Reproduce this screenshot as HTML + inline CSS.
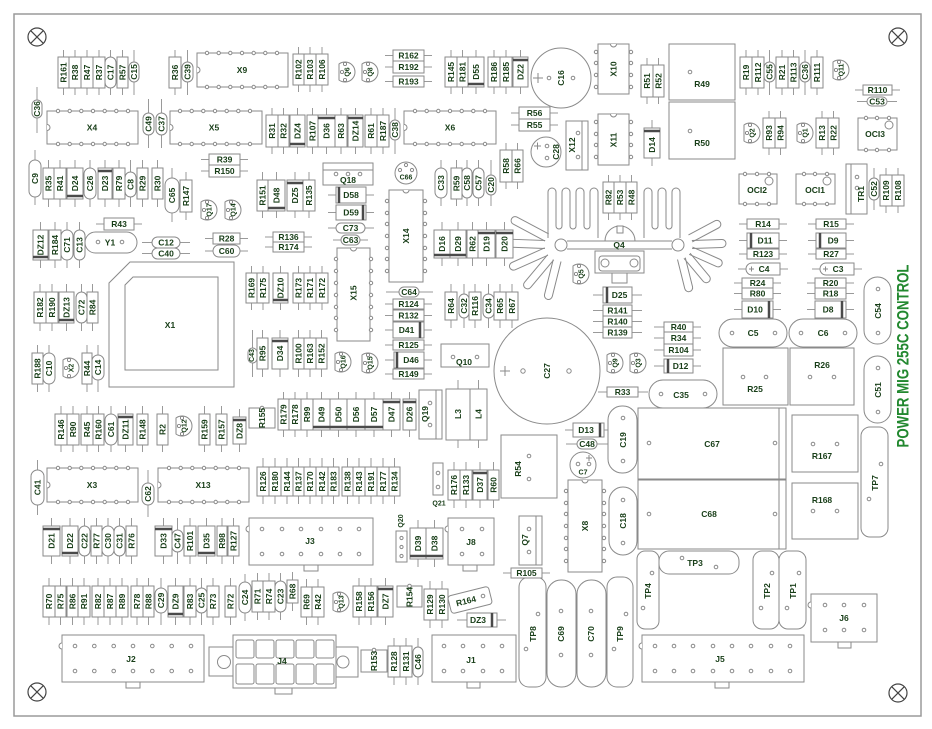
<!DOCTYPE html>
<html><head><meta charset="utf-8"><style>
html,body{margin:0;padding:0;background:#fff}
svg{display:block}
rect,circle,path{fill:#fff;stroke:#8a8a8a;stroke-width:1}
.l{fill:none;stroke:#9a9a9a}
.n{fill:none}
.bd{fill:none;stroke:#4a4a4a;stroke-width:2.5}
.p{stroke:#7a7a7a;stroke-width:.8}
.x{fill:none;stroke:#444;stroke-width:1.2}
text{font-family:"Liberation Sans Narrow","Liberation Sans",sans-serif;font-weight:bold;font-size:8.5px;fill:#173d17;text-anchor:middle;dominant-baseline:central}
.s{font-size:7px}
.tt{font-family:"Liberation Sans Narrow","Liberation Sans",sans-serif;font-size:17px;fill:#22882f}
</style></head><body>
<svg width="932" height="729" viewBox="0 0 932 729" xmlns="http://www.w3.org/2000/svg">
<defs>
<g id="q"><path d="M-6 -8A10 10 0 1 1 -6 8Z"/><circle class="p" cx="0" cy="-8" r="1.6"/><circle class="p" cx="0" cy="8" r="1.6"/><circle class="p" cx="-3" cy="0" r="1.6"/></g>
<g id="xh"><circle class="x" cx="0" cy="0" r="9"/><path class="x" d="M-6.4 -6.4L6.4 6.4M6.4 -6.4L-6.4 6.4"/></g>
</defs>
<rect x="14" y="14" width="907" height="702" style="fill:#fff;stroke:#9a9a9a;stroke-width:1.5"/>
<use href="#xh" x="37" y="37"/><use href="#xh" x="898" y="37"/><use href="#xh" x="37" y="692"/><use href="#xh" x="898" y="693"/>

<!-- leads -->
<path class="l" d="M63.5 50V95M75 50V95M87 50V95M99 50V95M110.5 50V95M122.5 50V95M134 50V95M175 50V95M187.5 50V95
M298.5 47V92M310 47V92M322 47V92M385 55.5H432M385 67H432M385 81.5H432
M451 50V94M462.5 50V94M476 50V94M494 50V94M506 50V94M520.5 50V94M647 58V104M658.5 58V104
M746 50V95M758 50V95M769.5 50V95M782 50V95M793.5 50V95M805 50V95M817 50V95M855 90H900M857 101.5H897
M37 87V133M148.5 99V148M161.5 99V148
M272 108V154M283.5 108V154M297.5 108V154M312.5 108V154M326.5 108V154M341 108V154M355.5 108V154M371 108V154M383 108V154M395 108V154
M511 113H558M511 125H558M652 120V166M506 143V189M517.5 143V189M769 111V155M780.5 111V155M822 111V155M833.5 111V155
M201 159.5H248M201 171H248M35 150V205
M48.5 160V207M60 160V207M75 160V207M90 160V207M105 160V207M119 160V207M130.5 160V207M142.5 160V207M157.5 160V207
M172 168V222M186 172V220M262.5 172V218M276.5 172V218M295 172V218M309 172V218
M328 195H374M328 212.5H374M328 228H374M333 240H368
M441 160V206M456.5 160V206M467 160V206M478.5 160V206M491 160V206M608.5 175V220M620 175V220M631.5 175V220
M874 168V210M886 168V213M898 168V213
M96 224H142M40.5 222V268M55 222V268M67 222V268M79.5 222V268M142 242.5H190M142 253.5H190M205 238.5H248M205 251H248M265 237H312M265 247H312
M442 222V266M458 222V266M472.5 222V266M486.5 222V266M504.5 222V266
M739 224H787M739 240.5H787M808 224H854M808 240.5H854M739 254H787M808 254H854M738 269H788M812 269H862
M734 283H781M734 293.5H781M734 309.5H781M807 283H854M807 293.5H854M807 309.5H854
M40 284V331M52 284V331M66.5 284V331M81.5 284V331M92.5 284V331M37.5 345V392M49 345V392M87 345V392M98 345V392
M61 406V452M73 406V452M87 406V452M98.5 406V452M111 406V452M125.5 406V452M142.5 406V452M162.5 406V452M204.5 406V452M221.5 406V452M239.5 409V452
M283.5 392V437M295 392V437M307 392V437M321.5 392V437M338.5 392V437M356 392V437M374 392V437M391.5 392V437M409.5 392V437
M458 380V448M478.5 380V448M37.5 460V515M148 470V517
M263 458V504M275 458V504M287 458V504M298.5 458V504M310 458V504M322 458V504M333.5 458V504M347.5 458V504M359 458V504M371 458V504M383 458V504M394.5 458V504
M454 462V508M466 462V508M480 462V508M493.5 462V508
M51.5 518V564M70 518V564M84.5 518V564M96.5 518V564M108 518V564M119.5 518V564M131.5 518V564M163.5 518V564M177.5 518V564M190 518V564M206.5 518V564M222 518V564M233.5 518V564
M418 520V567M434.5 520V567
M49 578V625M60.5 578V625M72.5 578V625M84 578V625M98 578V625M110 578V625M122 578V625M137 578V625M148.5 578V625M161 578V625M175.5 578V625M190 578V625M201.5 578V625M213 578V625M230.5 578V625
M245 574V621M257.5 573V620M269 573V620M280.5 573V620M292.5 572V611M306.5 579V625M318 579V625
M359 578V625M371 578V625M385.5 578V625M430 581V628M442 581V628M457 620H506
M394 638V685M406 638V685M418 638V685M503 573H550M565 430H612M566 444H608
M386 292H433M385 304H432M385 315.5H432M385 330H432M385 345H432M385 360H432M385 374H432
M251.5 266V310M263 266V310M280.5 266V310M298.5 266V310M310 266V310M322 266V310
M252.5 330V377M262.5 330V377M280 330V377M298.5 330V377M310 330V377M321.5 330V377
M451 284V328M464 284V328M475 284V328M488.5 284V328M500 284V328M512 284V328
M593 295H642M593 310.5H642M593 321.5H642M593 332.5H642M654 327H701M654 338H701M654 350H701M654 366H701M598 392H648"/>

<!-- heatsink -->
<path class="n" d="M548 238V192a4 4 0 0 1 8 0V226a3 3 0 0 0 6 0V192a4 4 0 0 1 8 0V226a3 3 0 0 0 6 0V192a4 4 0 0 1 8 0V226a3 3 0 0 0 6 0V192a4 4 0 0 1 8 0V238"/>
<path class="n" d="M644 238V192a4 4 0 0 1 8 0V226a3 3 0 0 0 6 0V192a4 4 0 0 1 8 0V226a3 3 0 0 0 6 0V192a4 4 0 0 1 8 0V238"/>
<path class="n" d="M-4 0V-36a4 4 0 0 1 8 0V0" transform="translate(561 245)rotate(-62)translate(0 -16)"/>
<path class="n" d="M-4 0V-36a4 4 0 0 1 8 0V0" transform="translate(561 245)rotate(-88)translate(0 -16)"/>
<path class="n" d="M-4 0V-36a4 4 0 0 1 8 0V0" transform="translate(561 245)rotate(-114)translate(0 -16)"/>
<path class="n" d="M-4 0V-36a4 4 0 0 1 8 0V0" transform="translate(561 245)rotate(-140)translate(0 -16)"/>
<path class="n" d="M-4 0V-36a4 4 0 0 1 8 0V0" transform="translate(561 245)rotate(-166)translate(0 -16)"/>
<path class="n" d="M-4 0V-30a4 4 0 0 1 8 0V0" transform="translate(678 245)rotate(62)translate(0 -14)"/>
<path class="n" d="M-4 0V-30a4 4 0 0 1 8 0V0" transform="translate(678 245)rotate(88)translate(0 -14)"/>
<path class="n" d="M-4 0V-30a4 4 0 0 1 8 0V0" transform="translate(678 245)rotate(114)translate(0 -14)"/>
<path class="n" d="M-4 0V-30a4 4 0 0 1 8 0V0" transform="translate(678 245)rotate(140)translate(0 -14)"/>
<path class="n" d="M-4 0V-30a4 4 0 0 1 8 0V0" transform="translate(678 245)rotate(166)translate(0 -14)"/>
<path class="n" d="M567 241H672M567 249H672"/>
<path d="M605 241A15 15 0 0 1 635 241Z"/><rect x="617" y="226" width="6" height="7"/>
<circle cx="561" cy="245" r="6"/><circle cx="678" cy="245" r="6"/>
<rect x="595" y="251" width="49" height="22"/><rect x="599" y="256" width="41" height="15" rx="3"/><rect x="612" y="273" width="15" height="10"/>
<circle cx="605" cy="263" r="4"/><circle cx="634" cy="263" r="4"/>

<!-- bodies row1 -->
<rect x="58" y="57" width="11" height="31"/><rect x="69" y="57" width="12" height="31"/><rect x="81" y="57" width="12" height="31"/><rect x="93" y="57" width="12" height="31"/><rect x="105" y="57" width="11" height="31" rx="5.5"/><rect x="117" y="57" width="11" height="31"/><rect x="129" y="62" width="10" height="20" rx="5"/>
<rect x="169" y="57" width="12" height="31"/><rect x="182" y="62" width="11" height="20" rx="5.5"/>
<rect x="197" y="53" width="91" height="34"/>
<rect x="293" y="54" width="11" height="31"/><rect x="304" y="54" width="12" height="31"/><rect x="316" y="54" width="12" height="31"/>
<rect x="393" y="50" width="31" height="11"/><rect x="393" y="61" width="31" height="12"/><rect x="393" y="76" width="31" height="11"/>
<rect x="445" y="57" width="12" height="30"/><rect x="457" y="57" width="11" height="30"/><rect x="468" y="57" width="16" height="30"/><rect x="488" y="57" width="12" height="30"/><rect x="500" y="57" width="12" height="30"/><rect x="513" y="57" width="15" height="30"/>
<circle cx="561" cy="78" r="30"/>
<rect x="598" y="44" width="31" height="50"/>
<rect x="641" y="65" width="12" height="32"/><rect x="653" y="65" width="11" height="32"/>
<rect x="669" y="44" width="66" height="56"/><rect x="669" y="102" width="66" height="57"/>
<rect x="740" y="57" width="12" height="31"/><rect x="752" y="57" width="12" height="31"/><rect x="764" y="62" width="11" height="20" rx="5.5"/><rect x="776" y="57" width="12" height="31"/><rect x="788" y="57" width="11" height="31"/><rect x="800" y="62" width="10" height="20" rx="5"/><rect x="811" y="57" width="12" height="31"/>
<rect x="863" y="85" width="29" height="10"/><rect x="867" y="97" width="20" height="9" rx="4.5"/>
<!-- row2 -->
<rect x="32" y="100" width="10" height="18" rx="5"/>
<rect x="47" y="111" width="91" height="33"/>
<rect x="143" y="113" width="11" height="22" rx="5.5"/><rect x="156" y="113" width="11" height="22" rx="5.5"/>
<rect x="170" y="111" width="92" height="33"/>
<rect x="266" y="115" width="12" height="32"/><rect x="278" y="115" width="11" height="32"/><rect x="290" y="115" width="15" height="32"/><rect x="307" y="115" width="11" height="32"/><rect x="318" y="115" width="17" height="32"/><rect x="335" y="115" width="12" height="32"/><rect x="348" y="115" width="15" height="32"/><rect x="365" y="115" width="12" height="32"/><rect x="377" y="115" width="12" height="32"/><rect x="390" y="120" width="10" height="20" rx="5"/>
<rect x="404" y="111" width="92" height="33"/>
<rect x="519" y="107" width="31" height="12"/><rect x="519" y="119" width="31" height="12"/>
<circle cx="546" cy="152" r="15"/>
<rect x="566" y="121" width="22" height="49"/>
<rect x="598" y="114" width="31" height="51"/>
<rect x="644" y="128" width="16" height="30"/>
<rect x="500" y="150" width="12" height="32"/><rect x="512" y="150" width="11" height="32"/>
<rect x="763" y="118" width="12" height="30"/><rect x="775" y="118" width="11" height="30"/><rect x="816" y="118" width="12" height="30"/><rect x="828" y="118" width="11" height="30"/>
<rect x="858" y="118" width="39" height="32"/>
<!-- row3 -->
<rect x="209" y="154" width="31" height="11"/><rect x="209" y="165" width="31" height="12"/>
<rect x="29" y="160" width="12" height="37" rx="6"/>
<rect x="43" y="168" width="11" height="31"/><rect x="54" y="168" width="12" height="31"/><rect x="67" y="168" width="16" height="31"/><rect x="84" y="168" width="12" height="31" rx="6"/><rect x="98" y="168" width="14" height="31"/><rect x="113" y="168" width="12" height="31"/><rect x="125" y="172" width="11" height="25" rx="5.5"/><rect x="137" y="168" width="11" height="31"/><rect x="152" y="168" width="11" height="31"/>
<rect x="165" y="178" width="14" height="35" rx="7"/><rect x="180" y="180" width="12" height="32"/>
<rect x="257" y="180" width="11" height="31"/><rect x="268" y="180" width="17" height="31"/><rect x="287" y="180" width="16" height="31"/><rect x="303" y="180" width="12" height="31"/>
<rect x="323" y="163" width="50" height="22"/>
<rect x="336" y="187" width="30" height="16"/><rect x="336" y="205" width="30" height="15"/><rect x="336" y="223" width="29" height="10" rx="5"/><rect x="341" y="235" width="19" height="10" rx="5"/>
<circle cx="406" cy="173" r="11"/>
<rect x="389" y="190" width="34" height="92"/>
<rect x="435" y="168" width="12" height="30" rx="6"/><rect x="451" y="168" width="11" height="31"/><rect x="462" y="168" width="10" height="30" rx="5"/><rect x="473" y="168" width="11" height="30" rx="5.5"/><rect x="486" y="175" width="10" height="20" rx="5"/>
<rect x="603" y="182" width="11" height="31"/><rect x="614" y="182" width="12" height="31"/><rect x="626" y="182" width="11" height="31"/>
<rect x="739" y="174" width="38" height="30"/><rect x="796" y="174" width="39" height="30"/>
<rect x="846" y="164" width="21" height="50"/>
<rect x="869" y="178" width="10" height="22" rx="5"/><rect x="880" y="175" width="12" height="31"/><rect x="892" y="175" width="12" height="31"/>
<!-- row4 -->
<rect x="104" y="218" width="30" height="12"/>
<rect x="85" y="232" width="52" height="21" rx="10.5"/>
<rect x="33" y="230" width="15" height="30"/><rect x="49" y="230" width="12" height="30"/><rect x="61" y="230" width="12" height="30" rx="6"/><rect x="74" y="230" width="11" height="30" rx="5.5"/>
<rect x="152" y="237" width="28" height="11" rx="5.5"/><rect x="152" y="248" width="28" height="11" rx="5.5"/>
<rect x="213" y="233" width="27" height="11"/><rect x="213" y="245" width="27" height="12" rx="6"/>
<rect x="273" y="232" width="31" height="10"/><rect x="273" y="242" width="31" height="10"/>
<rect x="434" y="230" width="16" height="28"/><rect x="450" y="230" width="16" height="28"/><rect x="467" y="230" width="11" height="28"/><rect x="478" y="230" width="17" height="28"/><rect x="496" y="230" width="17" height="28"/>
<rect x="747" y="219" width="32" height="10"/><rect x="747" y="233" width="32" height="15"/><rect x="816" y="219" width="30" height="10"/><rect x="816" y="233" width="30" height="15"/>
<rect x="747" y="249" width="32" height="10"/><rect x="816" y="249" width="30" height="10"/>
<path d="M752 263H780V275H752A6 6 0 0 1 752 263Z"/><path d="M826 263H854V275H826A6 6 0 0 1 826 263Z"/>
<rect x="742" y="278" width="31" height="10"/><rect x="742" y="288" width="31" height="11"/><rect x="742" y="301" width="31" height="17"/>
<rect x="815" y="278" width="31" height="10"/><rect x="815" y="288" width="31" height="11"/><rect x="815" y="301" width="31" height="17"/>
<rect x="719" y="319" width="68" height="28" rx="14"/><rect x="789" y="319" width="68" height="28" rx="14"/>
<rect x="864" y="277" width="27" height="67" rx="13.5"/>
<rect x="723" y="348" width="65" height="57"/><rect x="790" y="348" width="64" height="57"/>
<rect x="864" y="356" width="27" height="67" rx="13.5"/>
<!-- X1 area -->
<path d="M130 262H234V387H109V283Z"/><path d="M133 277H218V370H125V285Z"/>
<rect x="34" y="292" width="12" height="31"/><rect x="46" y="292" width="12" height="31"/><rect x="59" y="292" width="15" height="31"/><rect x="76" y="292" width="11" height="31" rx="5.5"/><rect x="87" y="292" width="11" height="31"/>
<rect x="32" y="353" width="11" height="31"/><rect x="43" y="353" width="12" height="31" rx="6"/><rect x="82" y="353" width="10" height="31"/><rect x="92" y="355" width="12" height="25" rx="6"/>
<!-- row 414 -->
<rect x="55" y="414" width="12" height="31"/><rect x="67" y="414" width="12" height="31"/><rect x="81" y="414" width="12" height="31"/><rect x="93" y="414" width="11" height="31"/><rect x="105" y="414" width="12" height="31" rx="6"/><rect x="118" y="414" width="15" height="31"/><rect x="137" y="414" width="11" height="31"/><rect x="157" y="414" width="11" height="31"/><rect x="199" y="414" width="11" height="31"/><rect x="216" y="414" width="11" height="31"/><rect x="233" y="417" width="13" height="27"/>
<rect x="249" y="408" width="26" height="20"/>
<rect x="278" y="399" width="11" height="31"/><rect x="289" y="399" width="12" height="31"/><rect x="301" y="399" width="12" height="31"/><rect x="313" y="399" width="17" height="31"/><rect x="330" y="399" width="17" height="31"/><rect x="347" y="399" width="18" height="31"/><rect x="365" y="399" width="18" height="31"/><rect x="383" y="399" width="17" height="31"/><rect x="403" y="399" width="13" height="31"/>
<rect x="419" y="390" width="23" height="49"/>
<rect x="446" y="389" width="24" height="51"/><rect x="470" y="389" width="17" height="51"/>
<!-- X3 row -->
<rect x="31" y="470" width="13" height="35" rx="6.5"/><rect x="47" y="468" width="91" height="34"/><rect x="142" y="483" width="12" height="22" rx="6"/><rect x="158" y="468" width="91" height="34"/>
<rect x="257" y="467" width="12" height="29"/><rect x="269" y="467" width="12" height="29"/><rect x="281" y="467" width="12" height="29"/><rect x="293" y="467" width="11" height="29"/><rect x="304" y="467" width="12" height="29"/><rect x="316" y="467" width="12" height="29"/><rect x="328" y="467" width="11" height="29"/><rect x="342" y="467" width="11" height="29"/><rect x="353" y="467" width="12" height="29"/><rect x="365" y="467" width="12" height="29"/><rect x="377" y="467" width="12" height="29"/><rect x="389" y="467" width="11" height="29"/>
<rect x="433" y="463" width="10" height="32"/>
<rect x="448" y="470" width="12" height="30"/><rect x="460" y="470" width="12" height="30"/><rect x="473" y="470" width="14" height="30"/><rect x="488" y="470" width="11" height="30"/>
<!-- D21 row -->
<rect x="43" y="526" width="17" height="30"/><rect x="62" y="526" width="16" height="30"/><rect x="79" y="526" width="11" height="30" rx="5.5"/><rect x="91" y="526" width="11" height="30"/><rect x="102" y="526" width="12" height="30" rx="6"/><rect x="114" y="526" width="11" height="30" rx="5.5"/><rect x="126" y="526" width="11" height="30"/><rect x="155" y="526" width="17" height="30"/><rect x="172" y="530" width="11" height="22" rx="5.5"/><rect x="184" y="526" width="12" height="30"/><rect x="198" y="526" width="17" height="30"/><rect x="217" y="526" width="10" height="30"/><rect x="228" y="526" width="11" height="30"/>
<rect x="304" y="565" width="14" height="6"/><rect x="249" y="518" width="124" height="47"/>
<rect x="396" y="531" width="11" height="31"/>
<rect x="410" y="528" width="16" height="31"/><rect x="426" y="528" width="17" height="31"/>
<rect x="463" y="565" width="14" height="6"/><rect x="448" y="518" width="46" height="47"/>
<!-- R70 row -->
<rect x="43" y="586" width="12" height="31"/><rect x="55" y="586" width="11" height="31"/><rect x="67" y="586" width="11" height="31"/><rect x="78" y="586" width="12" height="31"/><rect x="92" y="586" width="12" height="31"/><rect x="104" y="586" width="12" height="31"/><rect x="116" y="586" width="12" height="31"/><rect x="131" y="586" width="12" height="31"/><rect x="143" y="586" width="11" height="31"/><rect x="155" y="588" width="12" height="25" rx="6"/><rect x="168" y="586" width="15" height="31"/><rect x="184" y="586" width="12" height="31"/><rect x="196" y="588" width="11" height="25" rx="5.5"/><rect x="207" y="586" width="12" height="31"/><rect x="225" y="586" width="11" height="31"/>
<rect x="239" y="582" width="12" height="31" rx="6"/><rect x="252" y="581" width="11" height="31"/><rect x="263" y="581" width="12" height="31"/><rect x="275" y="581" width="11" height="31" rx="5.5"/><rect x="287" y="580" width="11" height="23"/>
<rect x="301" y="587" width="11" height="30"/><rect x="312" y="587" width="12" height="30"/>
<rect x="353" y="586" width="12" height="31"/><rect x="365" y="586" width="12" height="31"/><rect x="378" y="586" width="15" height="31"/>
<rect x="397" y="586" width="25" height="21"/>
<rect x="424" y="589" width="12" height="31"/><rect x="436" y="589" width="12" height="31"/>
<rect x="449" y="591" width="42" height="18" rx="3" transform="rotate(-14 470 600)"/>
<rect x="467" y="613" width="30" height="14"/>
<!-- bottom connectors -->
<rect x="126" y="682" width="14" height="6"/><rect x="62" y="635" width="142" height="47"/>
<rect x="209" y="647" width="24" height="29"/><circle cx="224" cy="662" r="6.5"/>
<rect x="336" y="647" width="22" height="30"/><circle cx="343" cy="662" r="6"/>
<rect x="275" y="688" width="17" height="6"/><rect x="233" y="635" width="103" height="53"/>
<rect x="236" y="640" width="18" height="18" rx="2"/><rect x="256" y="640" width="18" height="18" rx="2"/><rect x="276" y="640" width="18" height="18" rx="2"/><rect x="296" y="640" width="18" height="18" rx="2"/><rect x="316" y="640" width="18" height="18" rx="2"/>
<rect x="236" y="664" width="18" height="20" rx="2"/><rect x="256" y="664" width="18" height="20" rx="2"/><rect x="276" y="664" width="18" height="20" rx="2"/><rect x="296" y="664" width="18" height="20" rx="2"/><rect x="316" y="664" width="18" height="20" rx="2"/>
<rect x="361" y="650" width="26" height="22"/>
<rect x="388" y="646" width="12" height="31"/><rect x="400" y="646" width="12" height="31"/><rect x="413" y="647" width="10" height="30" rx="5"/>
<rect x="467" y="682" width="13" height="6"/><rect x="432" y="635" width="84" height="47"/>
<rect x="519" y="577" width="27" height="110" rx="10"/>
<rect x="547" y="580" width="29" height="107" rx="14"/>
<rect x="577" y="580" width="29" height="107" rx="14"/>
<rect x="607" y="577" width="26" height="110" rx="10"/>
<rect x="511" y="568" width="31" height="10"/>
<rect x="519" y="516" width="23" height="49"/>
<rect x="568" y="480" width="34" height="92"/>
<rect x="609" y="487" width="28" height="68" rx="14"/>
<rect x="637" y="551" width="22" height="78" rx="8"/>
<rect x="715" y="682" width="14" height="6"/><rect x="642" y="635" width="162" height="47"/>
<rect x="659" y="551" width="80" height="23" rx="10"/>
<rect x="753" y="551" width="26" height="78" rx="9"/><rect x="779" y="551" width="27" height="78" rx="9"/>
<rect x="838" y="642" width="13" height="6"/><rect x="811" y="594" width="66" height="48"/>
<rect x="638" y="408" width="148" height="71"/><rect x="638" y="480" width="148" height="69"/>
<rect x="792" y="415" width="66" height="57"/><rect x="792" y="483" width="66" height="56"/>
<rect x="861" y="427" width="27" height="110" rx="9"/>
<rect x="649" y="380" width="68" height="28" rx="14"/>
<rect x="608" y="406" width="29" height="67" rx="14"/>
<circle cx="547" cy="371" r="53"/>
<rect x="573" y="423" width="31" height="14"/><rect x="577" y="439" width="20" height="10" rx="5"/>
<circle cx="583" cy="465" r="13"/>
<rect x="501" y="435" width="56" height="63"/>
<rect x="441" y="344" width="48" height="23"/>
<rect x="445" y="292" width="12" height="28"/><rect x="459" y="294" width="10" height="24" rx="5"/><rect x="469" y="292" width="12" height="28"/><rect x="483" y="294" width="11" height="24" rx="5.5"/><rect x="494" y="292" width="12" height="28"/><rect x="506" y="292" width="12" height="28"/>
<rect x="603" y="287" width="29" height="16"/><rect x="603" y="305" width="29" height="11"/><rect x="603" y="316" width="29" height="11"/><rect x="603" y="327" width="29" height="11"/>
<rect x="664" y="322" width="29" height="10"/><rect x="664" y="332" width="29" height="12"/><rect x="664" y="344" width="29" height="12"/><rect x="664" y="359" width="29" height="14"/>
<rect x="607" y="387" width="31" height="10"/>
<rect x="399" y="287" width="20" height="10" rx="5"/><rect x="393" y="299" width="31" height="10"/><rect x="393" y="310" width="31" height="11"/><rect x="393" y="322" width="31" height="16"/><rect x="393" y="340" width="31" height="10"/><rect x="394" y="352" width="30" height="16"/><rect x="393" y="369" width="31" height="10"/>
<rect x="246" y="273" width="11" height="30"/><rect x="257" y="273" width="12" height="30"/><rect x="273" y="273" width="15" height="30"/><rect x="293" y="273" width="11" height="30"/><rect x="304" y="273" width="12" height="30"/><rect x="316" y="273" width="12" height="30"/>
<rect x="337" y="248" width="33" height="93"/>
<rect x="248" y="348" width="9" height="15" rx="4.5"/><rect x="257" y="338" width="11" height="31"/><rect x="272" y="338" width="16" height="31"/><rect x="293" y="338" width="11" height="31"/><rect x="304" y="338" width="12" height="31"/><rect x="316" y="338" width="11" height="31"/>

<!-- transistors -->
<use href="#q" x="345" y="72"/><use href="#q" x="368" y="72"/><use href="#q" x="839" y="70"/><use href="#q" x="750" y="133"/><use href="#q" x="803" y="133"/><use href="#q" x="207" y="210"/><use href="#q" x="231" y="210"/><use href="#q" x="69" y="368"/><use href="#q" x="182" y="426"/><use href="#q" x="341" y="362"/><use href="#q" x="368" y="363"/><use href="#q" x="339" y="602"/><use href="#q" x="579" y="274"/><use href="#q" x="613" y="363"/><use href="#q" x="636" y="363"/>

<!-- inner lines, notches, plus signs -->
<path class="n" d="M582 121V170M323 170H373M851 164V214M436 390V439M536 516V565M779 408V479M779 480V549M638 549H786
M533 78h10M538 73v10M534 146h7M537.5 142.5v7M500 371h10M505 366v10M586 458h6M589 455v6M749 269h5M751.5 266.5v5M823 269h5M825.5 266.5v5"/>
<path d="M197 67a3 3 0 0 1 0 6M47 124.5a3 3 0 0 1 0 6M170 124.5a3 3 0 0 1 0 6M404 124.5a3 3 0 0 1 0 6M47 482a3 3 0 0 1 0 6M158 482a3 3 0 0 1 0 6M610.5 44a3 3 0 0 0 6 0M610.5 114a3 3 0 0 0 6 0M403 190a3 3 0 0 0 6 0M350.5 248a3 3 0 0 0 6 0M582 480a3 3 0 0 0 6 0M249 526a3 3 0 0 0 0 6M448 526a3 3 0 0 0 0 6M62 643a3 3 0 0 0 0 6M642 643a3 3 0 0 0 0 6M811 602a3 3 0 0 0 0 6"/>

<!-- diode bands -->
<path class="bd" d="M468 84H484M513 60H528M290 144H305M318 118H335M348 118H363M644 131H660M67 196H83M98 171H112M268 208H285M287 183H303M339 187V203M363 205V220M33 257H48M434 255H450M450 255H466M478 233H495M496 233H513M751 233V248M820 233V248M769 301V318M842 301V318M59 320H74M118 417H133M233 420H246M313 427H383M383 402H400M403 402H416M473 473H487M43 529H60M62 553H78M155 529H172M198 553H215M410 556H443M168 614H183M378 589H393M492 613V627M273 300H288M272 341H288M420 322V338M397 352V368M607 287V303M668 359V373M600 423V437"/>

<!-- pins and holes -->
<g class="p">
<circle cx="207" cy="53" r="1.7"/><circle cx="218.7" cy="53" r="1.7"/><circle cx="230.3" cy="53" r="1.7"/><circle cx="242" cy="53" r="1.7"/><circle cx="253.7" cy="53" r="1.7"/><circle cx="265.3" cy="53" r="1.7"/><circle cx="277" cy="53" r="1.7"/>
<circle cx="207" cy="87" r="1.7"/><circle cx="218.7" cy="87" r="1.7"/><circle cx="230.3" cy="87" r="1.7"/><circle cx="242" cy="87" r="1.7"/><circle cx="253.7" cy="87" r="1.7"/><circle cx="265.3" cy="87" r="1.7"/><circle cx="277" cy="87" r="1.7"/>
<circle cx="58" cy="111" r="1.7"/><circle cx="69.7" cy="111" r="1.7"/><circle cx="81.3" cy="111" r="1.7"/><circle cx="93" cy="111" r="1.7"/><circle cx="104.7" cy="111" r="1.7"/><circle cx="116.3" cy="111" r="1.7"/><circle cx="128" cy="111" r="1.7"/>
<circle cx="58" cy="144" r="1.7"/><circle cx="69.7" cy="144" r="1.7"/><circle cx="81.3" cy="144" r="1.7"/><circle cx="93" cy="144" r="1.7"/><circle cx="104.7" cy="144" r="1.7"/><circle cx="116.3" cy="144" r="1.7"/><circle cx="128" cy="144" r="1.7"/>
<circle cx="180" cy="111" r="1.7"/><circle cx="191.7" cy="111" r="1.7"/><circle cx="203.3" cy="111" r="1.7"/><circle cx="215" cy="111" r="1.7"/><circle cx="226.7" cy="111" r="1.7"/><circle cx="238.3" cy="111" r="1.7"/><circle cx="250" cy="111" r="1.7"/>
<circle cx="180" cy="144" r="1.7"/><circle cx="191.7" cy="144" r="1.7"/><circle cx="203.3" cy="144" r="1.7"/><circle cx="215" cy="144" r="1.7"/><circle cx="226.7" cy="144" r="1.7"/><circle cx="238.3" cy="144" r="1.7"/><circle cx="250" cy="144" r="1.7"/>
<circle cx="415" cy="111" r="1.7"/><circle cx="426.7" cy="111" r="1.7"/><circle cx="438.3" cy="111" r="1.7"/><circle cx="450" cy="111" r="1.7"/><circle cx="461.7" cy="111" r="1.7"/><circle cx="473.3" cy="111" r="1.7"/><circle cx="485" cy="111" r="1.7"/>
<circle cx="415" cy="144" r="1.7"/><circle cx="426.7" cy="144" r="1.7"/><circle cx="438.3" cy="144" r="1.7"/><circle cx="450" cy="144" r="1.7"/><circle cx="461.7" cy="144" r="1.7"/><circle cx="473.3" cy="144" r="1.7"/><circle cx="485" cy="144" r="1.7"/>
<circle cx="58" cy="468" r="1.7"/><circle cx="69.7" cy="468" r="1.7"/><circle cx="81.3" cy="468" r="1.7"/><circle cx="93" cy="468" r="1.7"/><circle cx="104.7" cy="468" r="1.7"/><circle cx="116.3" cy="468" r="1.7"/><circle cx="128" cy="468" r="1.7"/>
<circle cx="58" cy="502" r="1.7"/><circle cx="69.7" cy="502" r="1.7"/><circle cx="81.3" cy="502" r="1.7"/><circle cx="93" cy="502" r="1.7"/><circle cx="104.7" cy="502" r="1.7"/><circle cx="116.3" cy="502" r="1.7"/><circle cx="128" cy="502" r="1.7"/>
<circle cx="169" cy="468" r="1.7"/><circle cx="180.7" cy="468" r="1.7"/><circle cx="192.3" cy="468" r="1.7"/><circle cx="204" cy="468" r="1.7"/><circle cx="215.7" cy="468" r="1.7"/><circle cx="227.3" cy="468" r="1.7"/><circle cx="239" cy="468" r="1.7"/>
<circle cx="169" cy="502" r="1.7"/><circle cx="180.7" cy="502" r="1.7"/><circle cx="192.3" cy="502" r="1.7"/><circle cx="204" cy="502" r="1.7"/><circle cx="215.7" cy="502" r="1.7"/><circle cx="227.3" cy="502" r="1.7"/><circle cx="239" cy="502" r="1.7"/>
<circle cx="596" cy="52" r="1.7"/><circle cx="596" cy="63" r="1.7"/><circle cx="596" cy="75" r="1.7"/><circle cx="596" cy="87" r="1.7"/><circle cx="631" cy="52" r="1.7"/><circle cx="631" cy="63" r="1.7"/><circle cx="631" cy="75" r="1.7"/><circle cx="631" cy="87" r="1.7"/>
<circle cx="596" cy="122" r="1.7"/><circle cx="596" cy="134" r="1.7"/><circle cx="596" cy="145" r="1.7"/><circle cx="596" cy="157" r="1.7"/><circle cx="631" cy="122" r="1.7"/><circle cx="631" cy="134" r="1.7"/><circle cx="631" cy="145" r="1.7"/><circle cx="631" cy="157" r="1.7"/>
<circle cx="387" cy="201" r="1.7"/><circle cx="387" cy="213" r="1.7"/><circle cx="387" cy="224" r="1.7"/><circle cx="387" cy="236" r="1.7"/><circle cx="387" cy="248" r="1.7"/><circle cx="387" cy="259" r="1.7"/><circle cx="387" cy="271" r="1.7"/>
<circle cx="425" cy="201" r="1.7"/><circle cx="425" cy="213" r="1.7"/><circle cx="425" cy="224" r="1.7"/><circle cx="425" cy="236" r="1.7"/><circle cx="425" cy="248" r="1.7"/><circle cx="425" cy="259" r="1.7"/><circle cx="425" cy="271" r="1.7"/>
<circle cx="336" cy="259" r="1.7"/><circle cx="336" cy="271" r="1.7"/><circle cx="336" cy="283" r="1.7"/><circle cx="336" cy="295" r="1.7"/><circle cx="336" cy="307" r="1.7"/><circle cx="336" cy="318" r="1.7"/><circle cx="336" cy="330" r="1.7"/>
<circle cx="371" cy="259" r="1.7"/><circle cx="371" cy="271" r="1.7"/><circle cx="371" cy="283" r="1.7"/><circle cx="371" cy="295" r="1.7"/><circle cx="371" cy="307" r="1.7"/><circle cx="371" cy="318" r="1.7"/><circle cx="371" cy="330" r="1.7"/>
<circle cx="566" cy="491" r="1.7"/><circle cx="566" cy="503" r="1.7"/><circle cx="566" cy="514" r="1.7"/><circle cx="566" cy="526" r="1.7"/><circle cx="566" cy="538" r="1.7"/><circle cx="566" cy="549" r="1.7"/><circle cx="566" cy="561" r="1.7"/>
<circle cx="604" cy="491" r="1.7"/><circle cx="604" cy="503" r="1.7"/><circle cx="604" cy="514" r="1.7"/><circle cx="604" cy="526" r="1.7"/><circle cx="604" cy="538" r="1.7"/><circle cx="604" cy="549" r="1.7"/><circle cx="604" cy="561" r="1.7"/>
<circle cx="866" cy="118" r="1.7"/><circle cx="877" cy="118" r="1.7"/><circle cx="889" cy="118" r="1.7"/><circle cx="866" cy="150" r="1.7"/><circle cx="877" cy="150" r="1.7"/><circle cx="889" cy="150" r="1.7"/>
<circle cx="745" cy="174" r="1.7"/><circle cx="757" cy="174" r="1.7"/><circle cx="769" cy="174" r="1.7"/><circle cx="745" cy="204" r="1.7"/><circle cx="757" cy="204" r="1.7"/><circle cx="769" cy="204" r="1.7"/>
<circle cx="804" cy="174" r="1.7"/><circle cx="815" cy="174" r="1.7"/><circle cx="827" cy="174" r="1.7"/><circle cx="804" cy="204" r="1.7"/><circle cx="815" cy="204" r="1.7"/><circle cx="827" cy="204" r="1.7"/>
<circle cx="549" cy="78" r="1.8"/><circle cx="573" cy="78" r="1.8"/><circle cx="690" cy="72" r="1.8"/><circle cx="690" cy="131" r="1.8"/><circle cx="547" cy="146" r="1.8"/><circle cx="547" cy="158" r="1.8"/><circle cx="578" cy="133" r="1.8"/><circle cx="578" cy="157" r="1.8"/>
<circle cx="98" cy="242" r="1.8"/><circle cx="122" cy="242" r="1.8"/><circle cx="336" cy="174" r="1.8"/><circle cx="348" cy="174" r="1.8"/><circle cx="360" cy="174" r="1.8"/><circle cx="400" cy="170" r="1.6"/><circle cx="412" cy="170" r="1.6"/><circle cx="406" cy="165" r="1.6"/>
<circle cx="857" cy="177" r="1.8"/><circle cx="857" cy="188" r="1.8"/>
<circle cx="732" cy="333" r="1.8"/><circle cx="775" cy="333" r="1.8"/><circle cx="801" cy="333" r="1.8"/><circle cx="845" cy="333" r="1.8"/><circle cx="878" cy="289" r="1.8"/><circle cx="878" cy="333" r="1.8"/><circle cx="743" cy="377" r="1.8"/><circle cx="766" cy="377" r="1.8"/><circle cx="810" cy="377" r="1.8"/><circle cx="834" cy="377" r="1.8"/><circle cx="878" cy="368" r="1.8"/><circle cx="878" cy="412" r="1.8"/>
<circle cx="430" cy="403" r="1.8"/><circle cx="430" cy="425" r="1.8"/><circle cx="438" cy="473" r="1.8"/><circle cx="438" cy="487" r="1.8"/><circle cx="401.5" cy="538" r="1.6"/><circle cx="401.5" cy="547" r="1.6"/><circle cx="401.5" cy="556" r="1.6"/>
<circle cx="262" cy="529" r="1.8"/><circle cx="282" cy="529" r="1.8"/><circle cx="301" cy="529" r="1.8"/><circle cx="321" cy="529" r="1.8"/><circle cx="340" cy="529" r="1.8"/><circle cx="359" cy="529" r="1.8"/>
<circle cx="262" cy="554" r="1.8"/><circle cx="282" cy="554" r="1.8"/><circle cx="301" cy="554" r="1.8"/><circle cx="321" cy="554" r="1.8"/><circle cx="340" cy="554" r="1.8"/><circle cx="359" cy="554" r="1.8"/>
<circle cx="462" cy="529" r="1.8"/><circle cx="482" cy="529" r="1.8"/><circle cx="462" cy="554" r="1.8"/><circle cx="482" cy="554" r="1.8"/>
<circle cx="75" cy="646" r="1.8"/><circle cx="94.3" cy="646" r="1.8"/><circle cx="113.7" cy="646" r="1.8"/><circle cx="133" cy="646" r="1.8"/><circle cx="152.3" cy="646" r="1.8"/><circle cx="171.7" cy="646" r="1.8"/><circle cx="191" cy="646" r="1.8"/>
<circle cx="75" cy="671" r="1.8"/><circle cx="94.3" cy="671" r="1.8"/><circle cx="113.7" cy="671" r="1.8"/><circle cx="133" cy="671" r="1.8"/><circle cx="152.3" cy="671" r="1.8"/><circle cx="171.7" cy="671" r="1.8"/><circle cx="191" cy="671" r="1.8"/>
<circle cx="444" cy="646" r="1.8"/><circle cx="463" cy="646" r="1.8"/><circle cx="483" cy="646" r="1.8"/><circle cx="502" cy="646" r="1.8"/><circle cx="444" cy="671" r="1.8"/><circle cx="463" cy="671" r="1.8"/><circle cx="483" cy="671" r="1.8"/><circle cx="502" cy="671" r="1.8"/>
<circle cx="655" cy="646" r="1.8"/><circle cx="674" cy="646" r="1.8"/><circle cx="693" cy="646" r="1.8"/><circle cx="713" cy="646" r="1.8"/><circle cx="732" cy="646" r="1.8"/><circle cx="751" cy="646" r="1.8"/><circle cx="771" cy="646" r="1.8"/><circle cx="790" cy="646" r="1.8"/>
<circle cx="655" cy="671" r="1.8"/><circle cx="674" cy="671" r="1.8"/><circle cx="693" cy="671" r="1.8"/><circle cx="713" cy="671" r="1.8"/><circle cx="732" cy="671" r="1.8"/><circle cx="751" cy="671" r="1.8"/><circle cx="771" cy="671" r="1.8"/><circle cx="790" cy="671" r="1.8"/>
<circle cx="825" cy="605" r="1.8"/><circle cx="844" cy="605" r="1.8"/><circle cx="864" cy="605" r="1.8"/><circle cx="825" cy="630" r="1.8"/><circle cx="844" cy="630" r="1.8"/><circle cx="864" cy="630" r="1.8"/>
<circle cx="538" cy="614" r="1.8"/><circle cx="526" cy="649" r="1.8"/><circle cx="561" cy="611" r="1.8"/><circle cx="561" cy="655" r="1.8"/><circle cx="591" cy="611" r="1.8"/><circle cx="591" cy="655" r="1.8"/><circle cx="626" cy="614" r="1.8"/><circle cx="614" cy="649" r="1.8"/>
<circle cx="529" cy="529" r="1.8"/><circle cx="529" cy="552" r="1.8"/><circle cx="623" cy="500" r="1.8"/><circle cx="623" cy="543" r="1.8"/><circle cx="652" cy="573" r="1.8"/><circle cx="643" cy="608" r="1.8"/><circle cx="682" cy="558" r="1.8"/><circle cx="716" cy="567" r="1.8"/>
<circle cx="772" cy="573" r="1.8"/><circle cx="761" cy="608" r="1.8"/><circle cx="799" cy="573" r="1.8"/><circle cx="787" cy="608" r="1.8"/>
<circle cx="649" cy="443" r="1.8"/><circle cx="775" cy="443" r="1.8"/><circle cx="649" cy="514" r="1.8"/><circle cx="775" cy="514" r="1.8"/><circle cx="813" cy="444" r="1.8"/><circle cx="837" cy="444" r="1.8"/><circle cx="813" cy="511" r="1.8"/><circle cx="837" cy="511" r="1.8"/><circle cx="881" cy="464" r="1.8"/><circle cx="869" cy="499" r="1.8"/>
<circle cx="661" cy="394" r="1.8"/><circle cx="705" cy="394" r="1.8"/><circle cx="623" cy="418" r="1.8"/><circle cx="623" cy="461" r="1.8"/><circle cx="523" cy="371" r="2.2"/><circle cx="569" cy="371" r="2.2"/><circle cx="578" cy="464" r="1.8"/><circle cx="589" cy="464" r="1.8"/>
<circle cx="529" cy="456" r="1.8"/><circle cx="529" cy="479" r="1.8"/><circle cx="453" cy="357" r="1.8"/><circle cx="477" cy="357" r="1.8"/><circle cx="483" cy="596" r="1.8"/><circle cx="374" cy="650" r="1.8"/><circle cx="262" cy="408" r="1.8"/><circle cx="409.5" cy="586" r="1.8"/>
</g>
<circle cx="889" cy="125" r="4"/><circle cx="769" cy="181" r="4"/><circle cx="827" cy="181" r="4"/>

<!-- labels row1 -->
<text transform="translate(63.5 72.5)rotate(-90)">R161</text><text transform="translate(75 72.5)rotate(-90)">R38</text><text transform="translate(87 72.5)rotate(-90)">R47</text><text transform="translate(99 72.5)rotate(-90)">R37</text><text transform="translate(110.5 72.5)rotate(-90)">C17</text><text transform="translate(122.5 72.5)rotate(-90)">R57</text><text transform="translate(134 72)rotate(-90)">C15</text><text transform="translate(175 72.5)rotate(-90)">R36</text><text transform="translate(187.5 72)rotate(-90)">C39</text>
<text x="242" y="70">X9</text>
<text transform="translate(298.5 69.5)rotate(-90)">R102</text><text transform="translate(310 69.5)rotate(-90)">R103</text><text transform="translate(322 69.5)rotate(-90)">R106</text>
<text class="s" transform="translate(348 72)rotate(-90)">Q6</text><text class="s" transform="translate(371 72)rotate(-90)">Q8</text>
<text x="408.5" y="55.5">R162</text><text x="408.5" y="67">R192</text><text x="408.5" y="81.5">R193</text>
<text transform="translate(451 72)rotate(-90)">R145</text><text transform="translate(462.5 72)rotate(-90)">R181</text><text transform="translate(476 72)rotate(-90)">D55</text><text transform="translate(494 72)rotate(-90)">R186</text><text transform="translate(506 72)rotate(-90)">R185</text><text transform="translate(520.5 72)rotate(-90)">DZ2</text>
<text transform="translate(561 78)rotate(-90)">C16</text><text transform="translate(613.5 69)rotate(-90)">X10</text>
<text transform="translate(647 81)rotate(-90)">R51</text><text transform="translate(658.5 81)rotate(-90)">R52</text>
<text x="702" y="84">R49</text><text x="702" y="143">R50</text>
<text transform="translate(746 72.5)rotate(-90)">R19</text><text transform="translate(758 72.5)rotate(-90)">R112</text><text transform="translate(769.5 72)rotate(-90)">C55</text><text transform="translate(782 72.5)rotate(-90)">R21</text><text transform="translate(793.5 72.5)rotate(-90)">R113</text><text transform="translate(805 72)rotate(-90)">C36</text><text transform="translate(817 72.5)rotate(-90)">R111</text>
<text class="s" transform="translate(842 70)rotate(-90)">Q11</text>
<text x="877.5" y="90">R110</text><text x="877" y="101.5">C53</text>
<!-- row2 -->
<text transform="translate(37 109)rotate(-90)">C36</text><text x="92" y="127.5">X4</text>
<text transform="translate(148.5 124)rotate(-90)">C49</text><text transform="translate(161.5 124)rotate(-90)">C37</text><text x="214" y="127.5">X5</text>
<text transform="translate(272 131)rotate(-90)">R31</text><text transform="translate(283.5 131)rotate(-90)">R32</text><text transform="translate(297.5 131)rotate(-90)">DZ4</text><text transform="translate(312.5 131)rotate(-90)">R107</text><text transform="translate(326.5 131)rotate(-90)">D36</text><text transform="translate(341 131)rotate(-90)">R63</text><text transform="translate(355.5 131)rotate(-90)">DZ14</text><text transform="translate(371 131)rotate(-90)">R61</text><text transform="translate(383 131)rotate(-90)">R187</text><text transform="translate(395 130)rotate(-90)">C38</text>
<text x="450" y="127.5">X6</text><text x="534.5" y="113">R56</text><text x="534.5" y="125">R55</text>
<text transform="translate(556 152)rotate(-90)">C28</text><text transform="translate(572 145)rotate(-90)">X12</text><text transform="translate(613.5 140)rotate(-90)">X11</text><text transform="translate(652 145)rotate(-90)">D14</text>
<text transform="translate(506 166)rotate(-90)">R58</text><text transform="translate(517.5 166)rotate(-90)">R66</text>
<text class="s" transform="translate(753 133)rotate(-90)">Q2</text><text transform="translate(769 133)rotate(-90)">R93</text><text transform="translate(780.5 133)rotate(-90)">R94</text><text class="s" transform="translate(806 133)rotate(-90)">Q1</text><text transform="translate(822 133)rotate(-90)">R13</text><text transform="translate(833.5 133)rotate(-90)">R22</text>
<text x="875" y="134">OCI3</text>
<!-- row3 -->
<text x="224.5" y="159.5">R39</text><text x="224.5" y="171">R150</text>
<text transform="translate(35 178.5)rotate(-90)">C9</text>
<text transform="translate(48.5 183.5)rotate(-90)">R35</text><text transform="translate(60 183.5)rotate(-90)">R41</text><text transform="translate(75 183.5)rotate(-90)">D24</text><text transform="translate(90 183.5)rotate(-90)">C26</text><text transform="translate(105 183.5)rotate(-90)">D23</text><text transform="translate(119 183.5)rotate(-90)">R79</text><text transform="translate(130.5 184.5)rotate(-90)">C8</text><text transform="translate(142.5 183.5)rotate(-90)">R29</text><text transform="translate(157.5 183.5)rotate(-90)">R30</text>
<text transform="translate(172 195.5)rotate(-90)">C65</text><text transform="translate(186 196)rotate(-90)">R147</text>
<text class="s" transform="translate(210 210)rotate(-90)">Q17</text><text class="s" transform="translate(234 210)rotate(-90)">Q14</text>
<text transform="translate(262.5 195.5)rotate(-90)">R151</text><text transform="translate(276.5 195.5)rotate(-90)">D48</text><text transform="translate(295 195.5)rotate(-90)">DZ5</text><text transform="translate(309 195.5)rotate(-90)">R135</text>
<text x="348" y="180">Q18</text><text x="351" y="195">D58</text><text x="351" y="212.5">D59</text><text x="350.5" y="228">C73</text><text x="350.5" y="240">C63</text>
<text class="s" x="406" y="178">C66</text><text transform="translate(406 236)rotate(-90)">X14</text>
<text transform="translate(441 183)rotate(-90)">C33</text><text transform="translate(456.5 183.5)rotate(-90)">R59</text><text transform="translate(467 183)rotate(-90)">C58</text><text transform="translate(478.5 183)rotate(-90)">C57</text><text transform="translate(491 185)rotate(-90)">C20</text>
<text transform="translate(608.5 197.5)rotate(-90)">R82</text><text transform="translate(620 197.5)rotate(-90)">R53</text><text transform="translate(631.5 197.5)rotate(-90)">R48</text>
<text x="757" y="190">OCI2</text><text x="815" y="190">OCI1</text>
<text transform="translate(861 194)rotate(-90)">TR1</text><text transform="translate(874 189)rotate(-90)">C52</text><text transform="translate(886 190.5)rotate(-90)">R109</text><text transform="translate(898 190.5)rotate(-90)">R108</text>
<!-- row4 -->
<text x="119" y="224">R43</text><text x="110" y="242.5">Y1</text>
<text transform="translate(40.5 245)rotate(-90)">DZ12</text><text transform="translate(55 245)rotate(-90)">R184</text><text transform="translate(67 245)rotate(-90)">C71</text><text transform="translate(79.5 245)rotate(-90)">C13</text>
<text x="166" y="242.5">C12</text><text x="166" y="253.5">C40</text><text x="226.5" y="238.5">R28</text><text x="226.5" y="251">C60</text><text x="288.5" y="237">R136</text><text x="288.5" y="247">R174</text>
<text transform="translate(442 244)rotate(-90)">D16</text><text transform="translate(458 244)rotate(-90)">D29</text><text transform="translate(472.5 244)rotate(-90)">R62</text><text transform="translate(486.5 244)rotate(-90)">D19</text><text transform="translate(504.5 244)rotate(-90)">D20</text>
<text x="763" y="224">R14</text><text x="765" y="240.5">D11</text><text x="831" y="224">R15</text><text x="833" y="240.5">D9</text><text x="763" y="254">R123</text><text x="831" y="254">R27</text><text x="764" y="269">C4</text><text x="838" y="269">C3</text>
<text x="757.5" y="283">R24</text><text x="757.5" y="293.5">R80</text><text x="755" y="309.5">D10</text><text x="830.5" y="283">R20</text><text x="830.5" y="293.5">R18</text><text x="828" y="309.5">D8</text>
<text x="753" y="333">C5</text><text x="823" y="333">C6</text><text transform="translate(878 311)rotate(-90)">C54</text><text x="755" y="389">R25</text><text x="822" y="365">R26</text><text transform="translate(878 390)rotate(-90)">C51</text>
<!-- X1 area -->
<text x="170" y="325">X1</text>
<text transform="translate(40 307.5)rotate(-90)">R182</text><text transform="translate(52 307.5)rotate(-90)">R190</text><text transform="translate(66.5 307.5)rotate(-90)">DZ13</text><text transform="translate(81.5 307.5)rotate(-90)">C72</text><text transform="translate(92.5 307.5)rotate(-90)">R84</text>
<text transform="translate(37.5 368.5)rotate(-90)">R188</text><text transform="translate(49 368.5)rotate(-90)">C10</text><text class="s" transform="translate(72 368)rotate(-90)">X2</text><text transform="translate(87 368.5)rotate(-90)">R44</text><text transform="translate(98 367.5)rotate(-90)">C14</text>
<!-- row414 -->
<text transform="translate(61 429.5)rotate(-90)">R146</text><text transform="translate(73 429.5)rotate(-90)">R90</text><text transform="translate(87 429.5)rotate(-90)">R45</text><text transform="translate(98.5 429.5)rotate(-90)">R160</text><text transform="translate(111 429.5)rotate(-90)">C61</text><text transform="translate(125.5 429.5)rotate(-90)">DZ11</text><text transform="translate(142.5 429.5)rotate(-90)">R148</text><text transform="translate(162.5 429.5)rotate(-90)">R2</text><text class="s" transform="translate(185 426)rotate(-90)">Q12</text><text transform="translate(204.5 429.5)rotate(-90)">R159</text><text transform="translate(221.5 429.5)rotate(-90)">R157</text><text transform="translate(239.5 431)rotate(-90)">DZ8</text>
<text transform="translate(262 418)rotate(-90)">R155</text>
<text transform="translate(283.5 414.5)rotate(-90)">R179</text><text transform="translate(295 414.5)rotate(-90)">R178</text><text transform="translate(307 414.5)rotate(-90)">R99</text><text transform="translate(321.5 414.5)rotate(-90)">D49</text><text transform="translate(338.5 414.5)rotate(-90)">D50</text><text transform="translate(356 414.5)rotate(-90)">D56</text><text transform="translate(374 414.5)rotate(-90)">D57</text><text transform="translate(391.5 414.5)rotate(-90)">D47</text><text transform="translate(409.5 414.5)rotate(-90)">D26</text>
<text transform="translate(425 414)rotate(-90)">Q19</text><text transform="translate(458 414)rotate(-90)">L3</text><text transform="translate(478.5 414)rotate(-90)">L4</text>
<!-- X3 row -->
<text transform="translate(37.5 487.5)rotate(-90)">C41</text><text x="92" y="485">X3</text><text transform="translate(148 494)rotate(-90)">C62</text><text x="203" y="485">X13</text>
<text transform="translate(263 481.5)rotate(-90)">R126</text><text transform="translate(275 481.5)rotate(-90)">R180</text><text transform="translate(287 481.5)rotate(-90)">R144</text><text transform="translate(298.5 481.5)rotate(-90)">R137</text><text transform="translate(310 481.5)rotate(-90)">R170</text><text transform="translate(322 481.5)rotate(-90)">R142</text><text transform="translate(333.5 481.5)rotate(-90)">R183</text><text transform="translate(347.5 481.5)rotate(-90)">R138</text><text transform="translate(359 481.5)rotate(-90)">R143</text><text transform="translate(371 481.5)rotate(-90)">R191</text><text transform="translate(383 481.5)rotate(-90)">R177</text><text transform="translate(394.5 481.5)rotate(-90)">R134</text>
<text class="s" x="439" y="504">Q21</text>
<text transform="translate(454 485)rotate(-90)">R176</text><text transform="translate(466 485)rotate(-90)">R133</text><text transform="translate(480 485)rotate(-90)">D37</text><text transform="translate(493.5 485)rotate(-90)">R60</text>
<!-- D21 row -->
<text transform="translate(51.5 541)rotate(-90)">D21</text><text transform="translate(70 541)rotate(-90)">D22</text><text transform="translate(84.5 541)rotate(-90)">C22</text><text transform="translate(96.5 541)rotate(-90)">R77</text><text transform="translate(108 541)rotate(-90)">C30</text><text transform="translate(119.5 541)rotate(-90)">C31</text><text transform="translate(131.5 541)rotate(-90)">R76</text><text transform="translate(163.5 541)rotate(-90)">D33</text><text transform="translate(177.5 541)rotate(-90)">C47</text><text transform="translate(190 541)rotate(-90)">R101</text><text transform="translate(206.5 541)rotate(-90)">D35</text><text transform="translate(222 541)rotate(-90)">R98</text><text transform="translate(233.5 541)rotate(-90)">R127</text>
<text x="310" y="541">J3</text><text class="s" transform="translate(401.5 521)rotate(-90)">Q20</text><text transform="translate(418 543.5)rotate(-90)">D39</text><text transform="translate(434.5 543.5)rotate(-90)">D38</text><text x="471" y="542">J8</text>
<!-- R70 row -->
<text transform="translate(49 601.5)rotate(-90)">R70</text><text transform="translate(60.5 601.5)rotate(-90)">R75</text><text transform="translate(72.5 601.5)rotate(-90)">R86</text><text transform="translate(84 601.5)rotate(-90)">R91</text><text transform="translate(98 601.5)rotate(-90)">R82</text><text transform="translate(110 601.5)rotate(-90)">R87</text><text transform="translate(122 601.5)rotate(-90)">R89</text><text transform="translate(137 601.5)rotate(-90)">R78</text><text transform="translate(148.5 601.5)rotate(-90)">R88</text><text transform="translate(161 600.5)rotate(-90)">C29</text><text transform="translate(175.5 601.5)rotate(-90)">DZ9</text><text transform="translate(190 601.5)rotate(-90)">R83</text><text transform="translate(201.5 600.5)rotate(-90)">C25</text><text transform="translate(213 601.5)rotate(-90)">R73</text><text transform="translate(230.5 601.5)rotate(-90)">R72</text>
<text transform="translate(245 597.5)rotate(-90)">C24</text><text transform="translate(257.5 596.5)rotate(-90)">R71</text><text transform="translate(269 596.5)rotate(-90)">R74</text><text transform="translate(280.5 596.5)rotate(-90)">C23</text><text transform="translate(292.5 591.5)rotate(-90)">R68</text>
<text transform="translate(306.5 602)rotate(-90)">R69</text><text transform="translate(318 602)rotate(-90)">R42</text><text class="s" transform="translate(342 602)rotate(-90)">Q13</text>
<text transform="translate(359 601.5)rotate(-90)">R158</text><text transform="translate(371 601.5)rotate(-90)">R156</text><text transform="translate(385.5 601.5)rotate(-90)">DZ7</text><text transform="translate(409.5 597)rotate(-90)">R154</text>
<text transform="translate(430 604.5)rotate(-90)">R129</text><text transform="translate(442 604.5)rotate(-90)">R130</text>
<text transform="translate(466 601)rotate(-14)">R164</text><text x="478" y="620">DZ3</text>
<!-- bottom -->
<text x="131" y="659">J2</text><text x="282" y="661">J4</text><text transform="translate(374 661)rotate(-90)">R153</text>
<text transform="translate(394 661.5)rotate(-90)">R128</text><text transform="translate(406 661.5)rotate(-90)">R131</text><text transform="translate(418 662)rotate(-90)">C46</text><text x="471" y="660">J1</text>
<text transform="translate(533 634)rotate(-90)">TP8</text><text transform="translate(561 634)rotate(-90)">C69</text><text transform="translate(591 634)rotate(-90)">C70</text><text transform="translate(620 634)rotate(-90)">TP9</text>
<text x="526.5" y="573">R105</text><text transform="translate(525 540)rotate(-90)">Q7</text><text transform="translate(585 526)rotate(-90)">X8</text><text transform="translate(623 521)rotate(-90)">C18</text><text transform="translate(648 591)rotate(-90)">TP4</text>
<text x="720" y="659">J5</text><text x="695" y="563">TP3</text><text transform="translate(767 591)rotate(-90)">TP2</text><text transform="translate(793 591)rotate(-90)">TP1</text><text x="844" y="618">J6</text>
<text x="712" y="444">C67</text><text x="709" y="514">C68</text><text x="822" y="456">R167</text><text x="822" y="500">R168</text><text transform="translate(875 483)rotate(-90)">TP7</text>
<text x="681" y="395">C35</text><text transform="translate(623 440)rotate(-90)">C19</text><text transform="translate(547 371)rotate(-90)">C27</text><text x="586" y="430">D13</text><text x="587" y="444">C48</text><text class="s" x="583" y="473">C7</text>
<text transform="translate(518 469)rotate(-90)">R54</text><text x="464" y="362">Q10</text>
<text transform="translate(451 306)rotate(-90)">R64</text><text transform="translate(464 306)rotate(-90)">C32</text><text transform="translate(475 306)rotate(-90)">R116</text><text transform="translate(488.5 306)rotate(-90)">C34</text><text transform="translate(500 306)rotate(-90)">R65</text><text transform="translate(512 306)rotate(-90)">R67</text>
<text class="s" transform="translate(582 274)rotate(-90)">Q5</text><text x="619.5" y="295">D25</text><text x="617.5" y="310.5">R141</text><text x="617.5" y="321.5">R140</text><text x="617.5" y="332.5">R139</text>
<text class="s" transform="translate(616 363)rotate(-90)">Q9</text><text class="s" transform="translate(639 363)rotate(-90)">Q3</text>
<text x="678.5" y="327">R40</text><text x="678.5" y="338">R34</text><text x="678.5" y="350">R104</text><text x="680.5" y="366">D12</text><text x="622.5" y="392">R33</text>
<text x="409" y="292">C64</text><text x="408.5" y="304">R124</text><text x="408.5" y="315.5">R132</text><text x="406.5" y="330">D41</text><text x="408.5" y="345">R125</text><text x="411" y="360">D46</text><text x="408.5" y="374">R149</text>
<text transform="translate(251.5 288)rotate(-90)">R169</text><text transform="translate(263 288)rotate(-90)">R175</text><text transform="translate(280.5 288)rotate(-90)">DZ10</text><text transform="translate(298.5 288)rotate(-90)">R173</text><text transform="translate(310 288)rotate(-90)">R171</text><text transform="translate(322 288)rotate(-90)">R172</text>
<text transform="translate(353.5 293)rotate(-90)">X15</text>
<text class="s" transform="translate(252.5 355.5)rotate(-90)">C43</text><text transform="translate(262.5 353.5)rotate(-90)">R95</text><text transform="translate(280 353.5)rotate(-90)">D34</text><text transform="translate(298.5 353.5)rotate(-90)">R100</text><text transform="translate(310 353.5)rotate(-90)">R163</text><text transform="translate(321.5 353.5)rotate(-90)">R152</text>
<text class="s" transform="translate(344 362)rotate(-90)">Q16</text><text class="s" transform="translate(371 363)rotate(-90)">Q15</text>
<text x="619" y="245">Q4</text>
<text class="tt" transform="translate(903 356)rotate(-90)" textLength="183" lengthAdjust="spacingAndGlyphs">POWER MIG 255C CONTROL</text>
</svg>
</body></html>
